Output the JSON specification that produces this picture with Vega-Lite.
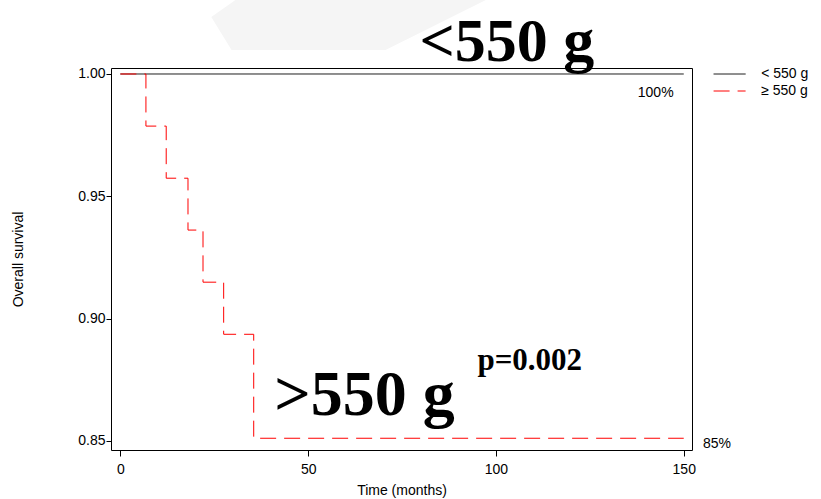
{
  "$schema": "https://vega.github.io/schema/vega-lite/v6.json",
  "width": 581,
  "height": 382,
  "autosize": "none",
  "padding": {"left": 111, "top": 68, "right": 129, "bottom": 49},
  "background": "white",
  "config": {
    "view": {"stroke": "black", "strokeWidth": 1},
    "font": "Liberation Sans",
    "axis": {
      "labelFont": "Liberation Sans",
      "titleFont": "Liberation Sans",
      "labelColor": "black",
      "titleColor": "black",
      "tickColor": "black",
      "domain": false,
      "grid": false,
      "labelFontSize": 14,
      "titleFontSize": 14,
      "titleFontWeight": "normal"
    }
  },
  "datasets": {
    "km": [
      {"group": "< 550 g", "time": 0, "surv": 1.0},
      {"group": "< 550 g", "time": 150, "surv": 1.0},
      {"group": "≥ 550 g", "time": 0, "surv": 1.0},
      {"group": "≥ 550 g", "time": 6.8, "surv": 0.9787},
      {"group": "≥ 550 g", "time": 12.2, "surv": 0.9574},
      {"group": "≥ 550 g", "time": 18.0, "surv": 0.9362},
      {"group": "≥ 550 g", "time": 22.0, "surv": 0.9149},
      {"group": "≥ 550 g", "time": 27.5, "surv": 0.8936},
      {"group": "≥ 550 g", "time": 35.5, "surv": 0.8511},
      {"group": "≥ 550 g", "time": 150, "surv": 0.8511}
    ],
    "shade": [
      {"sx": 24.2, "lo": 1.02329, "hi": 1.02329},
      {"sx": 29.6, "lo": 1.00981, "hi": 1.02915},
      {"sx": 30.6, "lo": 1.00981, "hi": 1.03024},
      {"sx": 70.6, "lo": 1.00981, "hi": 1.03024},
      {"sx": 97.3, "lo": 1.03024, "hi": 1.03024}
    ],
    "one": [{}]
  },
  "layer": [
    {
      "data": {"name": "shade"},
      "mark": {"type": "area", "color": "#f5f5f5", "clip": false},
      "encoding": {
        "x": {"field": "sx", "type": "quantitative"},
        "y": {"field": "lo", "type": "quantitative"},
        "y2": {"field": "hi"}
      }
    },
    {
      "data": {"name": "km"},
      "mark": {"type": "line", "interpolate": "step-after", "strokeWidth": 1, "clip": true},
      "encoding": {
        "x": {
          "field": "time", "type": "quantitative",
          "scale": {"domain": [-2.5, 152.2], "nice": false, "zero": false},
          "axis": {"values": [0, 50, 100, 150], "title": "Time (months)", "tickSize": 6, "labelPadding": 6, "titlePadding": 7}
        },
        "y": {
          "field": "surv", "type": "quantitative",
          "scale": {"domain": [0.8463, 1.00245], "nice": false, "zero": false},
          "axis": {"values": [0.85, 0.9, 0.95, 1.0], "format": ".2f", "title": "Overall survival", "tickSize": 5, "labelPadding": 1, "titlePadding": 52}
        },
        "color": {
          "field": "group", "type": "nominal",
          "scale": {"domain": ["< 550 g", "≥ 550 g"], "range": ["black", "red"]},
          "legend": {
            "title": null, "orient": "none", "legendX": 611.6, "legendY": -1,
            "symbolType": "M-2.5,0H2.5", "symbolSize": 164, "symbolStrokeWidth": 1,
            "labelFontSize": 14, "labelFont": "Liberation Sans", "labelColor": "black",
            "labelOffset": 24.6, "rowPadding": 3, "padding": 0
          }
        },
        "strokeDash": {
          "field": "group", "type": "nominal",
          "scale": {"domain": ["< 550 g", "≥ 550 g"], "range": [[1, 0], [16, 8]]}
        }
      }
    },
    {
      "data": {"name": "one"},
      "mark": {"type": "text", "font": "Liberation Serif", "fontWeight": "bold", "fontSize": 62, "baseline": "alphabetic", "align": "center", "color": "black"},
      "encoding": {"x": {"datum": 102.9}, "y": {"datum": 1.0053}, "text": {"value": "<550 g"}}
    },
    {
      "data": {"name": "one"},
      "mark": {"type": "text", "font": "Liberation Serif", "fontWeight": "bold", "fontSize": 64, "baseline": "alphabetic", "align": "center", "color": "black"},
      "encoding": {"x": {"datum": 65.0}, "y": {"datum": 0.8606}, "text": {"value": ">550 g"}}
    },
    {
      "data": {"name": "one"},
      "mark": {"type": "text", "font": "Liberation Serif", "fontWeight": "bold", "fontSize": 31, "baseline": "alphabetic", "align": "center", "color": "black"},
      "encoding": {"x": {"datum": 109.0}, "y": {"datum": 0.8792}, "text": {"value": "p=0.002"}}
    },
    {
      "data": {"name": "one"},
      "mark": {"type": "text", "font": "Liberation Sans", "fontSize": 14, "baseline": "alphabetic", "align": "right", "color": "black"},
      "encoding": {"x": {"datum": 147.3}, "y": {"datum": 0.9906}, "text": {"value": "100%"}}
    },
    {
      "data": {"name": "one"},
      "mark": {"type": "text", "font": "Liberation Sans", "fontSize": 14, "baseline": "alphabetic", "align": "left", "color": "black"},
      "encoding": {"x": {"datum": 155.1}, "y": {"datum": 0.8471}, "text": {"value": "85%"}}
    }
  ]
}
